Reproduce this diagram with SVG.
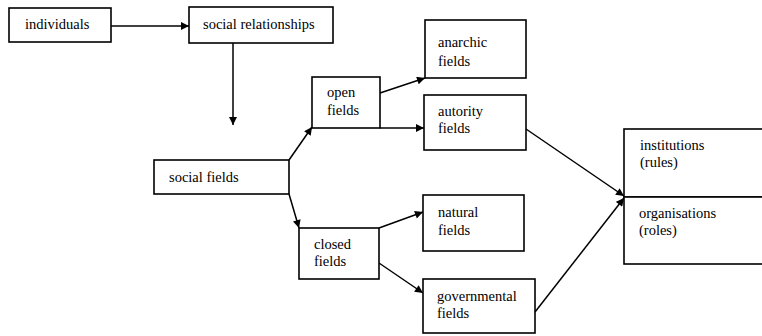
<svg xmlns="http://www.w3.org/2000/svg" width="762" height="336" viewBox="0 0 762 336">
<style>
.box{fill:#fff;stroke:#000;stroke-width:1.6}
.c{fill:none;stroke:#000;stroke-width:1.5}
</style>
<defs>
<marker id="ah" viewBox="0 0 10 10" refX="10" refY="5" markerWidth="9" markerHeight="8" markerUnits="userSpaceOnUse" orient="auto">
<path d="M0,0 L10,5 L0,10 z" fill="#000"/>
</marker>
</defs>
<rect width="762" height="336" fill="#fff"/>
<g id="connectors">
<line class="c" x1="111" y1="26" x2="189" y2="26" marker-end="url(#ah)"/>
<line class="c" x1="233" y1="43" x2="233" y2="125" marker-end="url(#ah)"/>
<line class="c" x1="289" y1="160" x2="312" y2="127" marker-end="url(#ah)"/>
<line class="c" x1="289" y1="194" x2="299" y2="228" marker-end="url(#ah)"/>
<line class="c" x1="380" y1="93" x2="425" y2="78" marker-end="url(#ah)"/>
<line class="c" x1="380" y1="128" x2="424" y2="128" marker-end="url(#ah)"/>
<line class="c" x1="379" y1="228" x2="423" y2="212" marker-end="url(#ah)"/>
<line class="c" x1="379" y1="263" x2="423" y2="293" marker-end="url(#ah)"/>
<line class="c" x1="526" y1="129" x2="624" y2="196" marker-end="url(#ah)"/>
<line class="c" x1="535" y1="312" x2="624" y2="198" marker-end="url(#ah)"/>
</g>
<g id="individuals"><rect class="box" x="9" y="8" width="102" height="34"/><text x="25" y="29" font-family="Liberation Serif" font-size="14.5">individuals</text></g>
<g id="social-relationships"><rect class="box" x="189" y="7" width="144" height="36"/><text x="203" y="29" font-family="Liberation Serif" font-size="14.5">social relationships</text></g>
<g id="social-fields"><rect class="box" x="154" y="160" width="135" height="34"/><text x="169" y="182" font-family="Liberation Serif" font-size="14.5">social fields</text></g>
<g id="open-fields"><rect class="box" x="312" y="77" width="68" height="51"/><text x="327" y="97" font-family="Liberation Serif" font-size="14.5">open</text><text x="327" y="115" font-family="Liberation Serif" font-size="14.5">fields</text></g>
<g id="anarchic-fields"><rect class="box" x="425" y="20" width="101" height="58"/><text x="438" y="47" font-family="Liberation Serif" font-size="14.5">anarchic</text><text x="438" y="66" font-family="Liberation Serif" font-size="14.5">fields</text></g>
<g id="autority-fields"><rect class="box" x="424" y="95" width="102" height="55"/><text x="438" y="116" font-family="Liberation Serif" font-size="14.5">autority</text><text x="438" y="133" font-family="Liberation Serif" font-size="14.5">fields</text></g>
<g id="closed-fields"><rect class="box" x="299" y="228" width="80" height="51"/><text x="314" y="249" font-family="Liberation Serif" font-size="14.5">closed</text><text x="314" y="266" font-family="Liberation Serif" font-size="14.5">fields</text></g>
<g id="natural-fields"><rect class="box" x="423" y="195" width="101" height="56"/><text x="438" y="217" font-family="Liberation Serif" font-size="14.5">natural</text><text x="438" y="235" font-family="Liberation Serif" font-size="14.5">fields</text></g>
<g id="governmental-fields"><rect class="box" x="423" y="279" width="112" height="54"/><text x="437" y="301" font-family="Liberation Serif" font-size="14.5">governmental</text><text x="437" y="318" font-family="Liberation Serif" font-size="14.5">fields</text></g>
<g id="institutions"><rect class="box" x="624" y="129" width="140" height="68"/><text x="640" y="150" font-family="Liberation Serif" font-size="14.5">institutions</text><text x="640" y="167" font-family="Liberation Serif" font-size="14.5">(rules)</text></g>
<g id="organisations"><rect class="box" x="624" y="197" width="140" height="67"/><text x="639" y="218" font-family="Liberation Serif" font-size="14.5">organisations</text><text x="639" y="235" font-family="Liberation Serif" font-size="14.5">(roles)</text></g>
</svg>
